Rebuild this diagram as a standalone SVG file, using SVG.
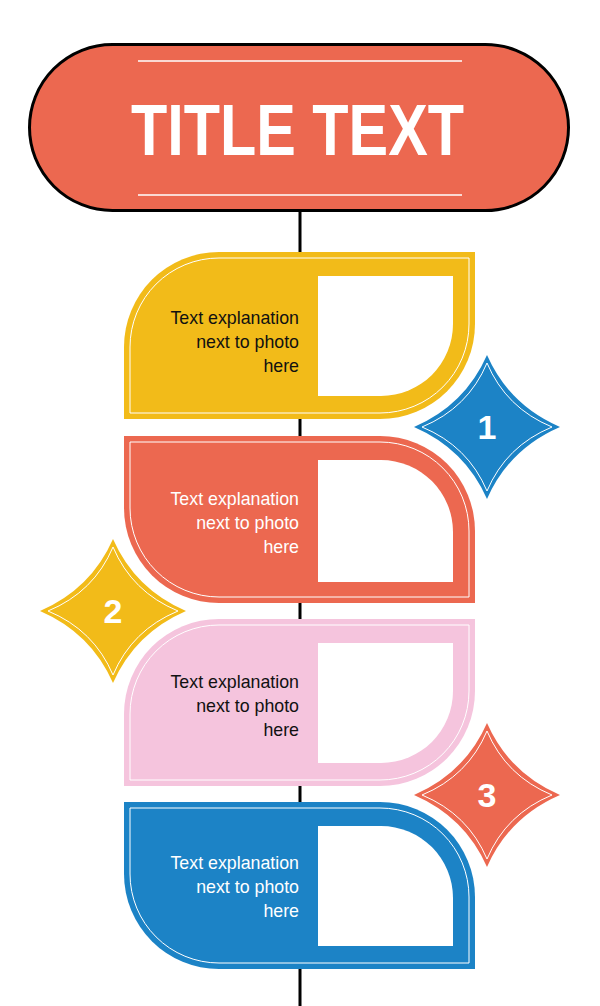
<svg xmlns="http://www.w3.org/2000/svg" xmlns:xlink="http://www.w3.org/1999/xlink" width="600" height="1006" viewBox="0 0 600 1006">
<style>
.ttl{font-family:"Liberation Sans",Arial,sans-serif;font-weight:bold;font-size:72px;fill:#fff}
.txt{font-family:"Liberation Sans",Arial,sans-serif;font-size:17.8px;text-anchor:end}
.dk{fill:#111}
.lt{fill:#fff}
.inner{fill:none;stroke:#fff;stroke-width:1}
.photo{fill:#fff}
.num{font-family:"Liberation Sans",Arial,sans-serif;font-weight:bold;font-size:34px;fill:#fff;text-anchor:middle}
</style>
<defs>
<path id="star" d="M0,-72 Q22,-22 73,0 Q22,22 0,72 Q-22,22 -73,0 Q-22,-22 0,-72 Z"/>
<path id="starIn" d="M0,-64 Q19,-19 65,0 Q19,19 0,64 Q-19,19 -65,0 Q-19,-19 0,-64 Z"/>
</defs>
<g id="connectors">
<line x1="300" y1="205" x2="300" y2="1006" stroke="#000" stroke-width="3"/>
</g>
<g id="title">
<rect x="29.5" y="44.5" width="539" height="166" rx="83" ry="83" fill="#EC6850" stroke="#000" stroke-width="3"/>
<line x1="138" y1="61" x2="462" y2="61" stroke="#fff" stroke-width="1.5"/>
<line x1="138" y1="195" x2="462" y2="195" stroke="#fff" stroke-width="1.5"/>
<text class="ttl" x="131" y="155" textLength="333" lengthAdjust="spacingAndGlyphs">TITLE TEXT</text>
</g>
<g id="card1">
<path d="M219,252 H475 V324 A95 95 0 0 1 380 419 H124 V347 A95 95 0 0 1 219 252 Z" fill="#F2BB19"/>
<path class="inner" d="M219,258 H469 V324 A89 89 0 0 1 380 413 H130 V347 A89 89 0 0 1 219 258 Z"/>
<path class="photo" d="M318,276 H453 V324 A72 72 0 0 1 381 396 H318 Z"/>
<text class="txt dk" x="299" y="323.5">Text explanation</text>
<text class="txt dk" x="299" y="347.5">next to photo</text>
<text class="txt dk" x="299" y="371.5">here</text>
</g>
<g id="card2">
<path d="M124,436 H380 A95 95 0 0 1 475 531 V603 H219 A95 95 0 0 1 124 508 Z" fill="#EC6850"/>
<path class="inner" d="M130,442 H380 A89 89 0 0 1 469 531 V597 H219 A89 89 0 0 1 130 508 Z"/>
<path class="photo" d="M318,460 H381 A72 72 0 0 1 453 532 V582 H318 Z"/>
<text class="txt lt" x="299" y="504.5">Text explanation</text>
<text class="txt lt" x="299" y="528.5">next to photo</text>
<text class="txt lt" x="299" y="552.5">here</text>
</g>
<g id="card3">
<path d="M219,619 H475 V691 A95 95 0 0 1 380 786 H124 V714 A95 95 0 0 1 219 619 Z" fill="#F5C4DD"/>
<path class="inner" d="M219,625 H469 V691 A89 89 0 0 1 380 780 H130 V714 A89 89 0 0 1 219 625 Z"/>
<path class="photo" d="M318,643 H453 V691 A72 72 0 0 1 381 763 H318 Z"/>
<text class="txt dk" x="299" y="687.5">Text explanation</text>
<text class="txt dk" x="299" y="711.5">next to photo</text>
<text class="txt dk" x="299" y="735.5">here</text>
</g>
<g id="card4">
<path d="M124,802 H380 A95 95 0 0 1 475 897 V969 H219 A95 95 0 0 1 124 874 Z" fill="#1C83C6"/>
<path class="inner" d="M130,808 H380 A89 89 0 0 1 469 897 V963 H219 A89 89 0 0 1 130 874 Z"/>
<path class="photo" d="M318,826 H381 A72 72 0 0 1 453 898 V946 H318 Z"/>
<text class="txt lt" x="299" y="868.5">Text explanation</text>
<text class="txt lt" x="299" y="892.5">next to photo</text>
<text class="txt lt" x="299" y="916.5">here</text>
</g>
<g id="star1" transform="translate(487,427)">
<use xlink:href="#star" fill="#1C83C6"/>
<use xlink:href="#starIn" class="inner"/>
<text class="num" y="12">1</text>
</g>
<g id="star2" transform="translate(113,611)">
<use xlink:href="#star" fill="#F2BB19"/>
<use xlink:href="#starIn" class="inner"/>
<text class="num" y="12">2</text>
</g>
<g id="star3" transform="translate(487,795)">
<use xlink:href="#star" fill="#EC6850"/>
<use xlink:href="#starIn" class="inner"/>
<text class="num" y="12">3</text>
</g>
</svg>
